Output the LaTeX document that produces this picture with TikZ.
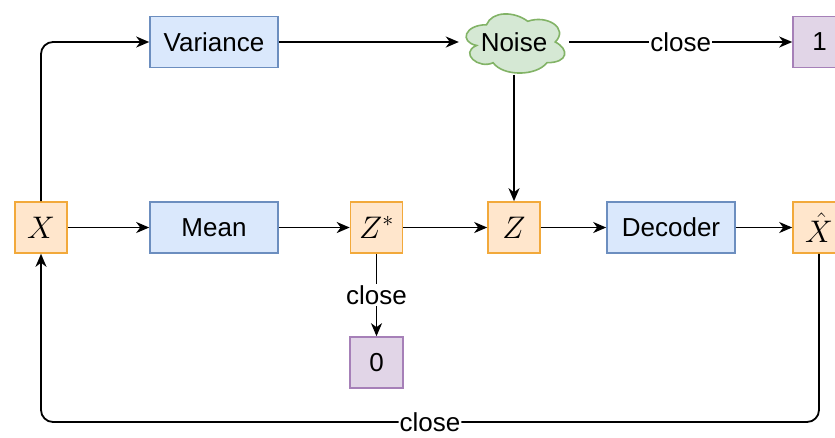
\RequirePackage{fix-cm}
\documentclass[tikz,border=0pt]{standalone}
\usepackage{graphicx}
\usepackage{fontspec}
\setmainfont{Liberation Sans}
\usetikzlibrary{arrows.meta}
\definecolor{bfill}{HTML}{DAE8FC}
\definecolor{bdraw}{HTML}{6C8EBF}
\definecolor{ofill}{HTML}{FFE6CC}
\definecolor{odraw}{HTML}{F2A93B}
\definecolor{pfill}{HTML}{E1D5E7}
\definecolor{pdraw}{HTML}{A680B8}
\definecolor{gfill}{HTML}{D5E8D4}
\definecolor{gdraw}{HTML}{82B366}
\newcommand{\bigmath}[1]{\scalebox{1.2}{$#1$}}
\begin{document}
\begin{tikzpicture}[x=1pt,y=-1pt,
  every node/.style={font=\fontsize{26}{30}\selectfont},
  bluebox/.style={draw=bdraw,fill=bfill,line width=1.6pt,minimum width=128pt,minimum height=51pt,inner sep=0pt},
  varbox/.style={draw=odraw,fill=ofill,line width=1.6pt,minimum width=52pt,minimum height=51pt,inner sep=0pt,font=\fontsize{26}{30}\selectfont},
  outbox/.style={draw=pdraw,fill=pfill,line width=1.6pt,minimum width=53pt,minimum height=51pt,inner sep=0pt},
  cloudbox/.style={minimum width=110pt,minimum height=69pt,inner sep=0pt},
  cloudline/.style={draw=gdraw,fill=gfill,line width=1.6pt},
  conn/.style={line width=1.8pt,-{Stealth[length=13pt,width=11pt,inset=4pt]}},
  lab/.style={fill=white,inner sep=1pt}]
\useasboundingbox (0,0) rectangle (835,437);
\clip (0,0) rectangle (835,437);
\node[bluebox] (var) at (214,42) {Variance};
% cloud outline (draw.io cloud), drawn in the box of the node noise
\begin{scope}[shift={(459,7.5)},x=110pt,y=-69pt]
\path[cloudline] (0.25,0.25)
  .. controls (0.05,0.25) and (0,0.5) .. (0.16,0.55)
  .. controls (0,0.66) and (0.18,0.9) .. (0.31,0.8)
  .. controls (0.4,1) and (0.7,1) .. (0.8,0.8)
  .. controls (1,0.8) and (1,0.6) .. (0.875,0.5)
  .. controls (1,0.3) and (0.8,0.1) .. (0.625,0.2)
  .. controls (0.5,0.05) and (0.3,0.05) .. (0.25,0.25) -- cycle;
\end{scope}
\node[cloudbox] (noise) at (514,42) {Noise};
\node[outbox] (one) at (819.5,42) {1};
\node[varbox] (x) at (41,227.5) {\bigmath{X}};
\node[bluebox] (mean) at (214,227.5) {Mean};
\node[varbox] (zs) at (376.5,227.5) {\bigmath{Z^*}};
\node[varbox] (z) at (514,227.5) {\bigmath{Z}};
\node[bluebox] (dec) at (671,227.5) {Decoder};
\node[varbox] (xh) at (819,227.5) {\bigmath{\hat{X}}};
\node[outbox] (zero) at (376.5,362.5) {0};
\coordinate (bl) at (430,422);
\draw[conn,rounded corners=12pt] (x.north) |- (var.west);
\draw[conn] (var.east) -- (noise.west);
\draw[conn] (noise.east) -- node[lab]{close} (one.west);
\draw[conn] ([yshift=2pt]noise.south) -- (z.north);
\draw[conn] (x.east) -- (mean.west);
\draw[conn] (mean.east) -- (zs.west);
\draw[conn] (zs.east) -- (z.west);
\draw[conn] (z.east) -- (dec.west);
\draw[conn] (dec.east) -- (xh.west);
\draw[conn] (zs.south) -- node[lab]{close} (zero.north);
\draw[conn,rounded corners=12pt] (xh.south) |- (bl) node[lab]{close} -| (x.south);
\end{tikzpicture}
\end{document}
